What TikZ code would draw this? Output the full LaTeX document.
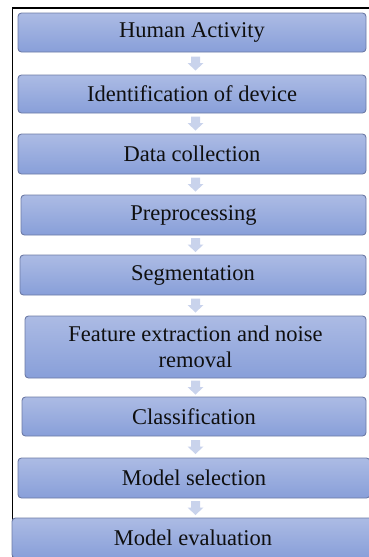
\documentclass[tikz,border=0pt]{standalone}
\usepackage{fontspec}
\setmainfont{Liberation Serif}
\newfontfamily\stepfont{Liberation Serif}
\usetikzlibrary{calc}
\definecolor{boxtop}{RGB}{172,187,228}
\definecolor{boxbot}{RGB}{136,159,217}
\definecolor{boxline}{RGB}{108,122,165}
\definecolor{arrowfill}{RGB}{201,211,236}
\definecolor{ink}{RGB}{15,15,15}
\tikzset{
  stepbox/.style={draw=boxline, line width=0.9pt, rounded corners=3.5pt,
    top color=boxtop, bottom color=boxbot, text=ink,
    font=\stepfont\fontsize{22.5}{25.5}\selectfont, align=center,
    inner sep=0pt, minimum height=#1},
  stepbox/.default=39pt,
  flowarrow/.style={fill=arrowfill, draw=none}
}
\begin{document}
\begin{tikzpicture}[x=1pt,y=-1pt]
\useasboundingbox (0,0) rectangle (369,557);
\clip (0,0) rectangle (369,557);
% outer frame: top and left edges
\draw[line width=1.5pt] (12.5,600) -- (12.5,8) -- (380,8);
% process steps
\node[stepbox, minimum width=348pt] (s1) at (192,32.5) {Human Activity};
\node[stepbox=38pt, minimum width=348pt] (s2) at (192,94) {Identification of device};
\node[stepbox=40pt, minimum width=348pt] (s3) at (192,154) {Data collection};
\node[stepbox=40pt, minimum width=345pt] (s4) at (193.5,215) {Preprocessing};
\node[stepbox=40pt, minimum width=346pt] (s5) at (193,275) {Segmentation};
\node[stepbox=62pt, minimum width=341pt] (s6) at (195.5,347) {Feature extraction and noise\\removal};
\node[stepbox=39pt, minimum width=344pt] (s7) at (194,416.5) {Classification};
\node[stepbox=40pt, minimum width=352pt] (s8) at (194,478) {Model selection};
\node[stepbox=40pt, minimum width=362pt] (s9) at (193,538) {Model evaluation};
% block arrows between consecutive steps (shaft 9pt wide, head 16pt wide);
% \n1 is the gap's midpoint in page points, where larger means higher up
\foreach \a/\b in {s1/s2,s2/s3,s3/s4,s4/s5,s5/s6,s6/s7,s7/s8,s8/s9}{
  \path[flowarrow] let \p1=(\a.south), \p2=(\b.north),
      \n1={0.5*(\y1+\y2)} in
    (191pt,\n1+7pt) -- (200pt,\n1+7pt) -- (200pt,\n1+0.5pt) -- (203.5pt,\n1+0.5pt)
    -- (195.5pt,\n1-7pt) -- (187.5pt,\n1+0.5pt) -- (191pt,\n1+0.5pt) -- cycle;
}
\end{tikzpicture}
\end{document}
